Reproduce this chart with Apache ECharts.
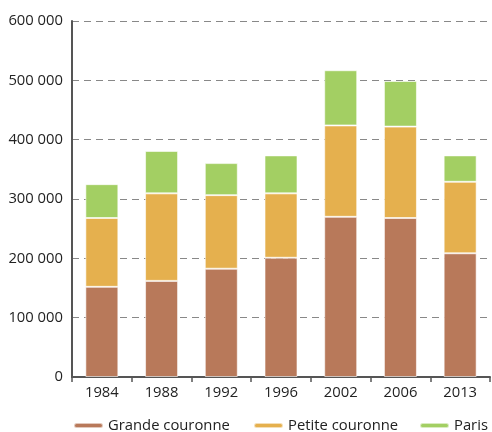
<!DOCTYPE html>
<html><head><meta charset="utf-8">
<script src="https://cdn.jsdelivr.net/npm/echarts@6/dist/echarts.min.js"></script>
<style>html,body{margin:0;padding:0;background:#fff}#c{width:492px;height:432px}</style>
</head><body><div id="c"></div>
<script>
const categories = ['1984','1988','1992','1996','2002','2006','2013'];
const grandeCouronne = [152000,162000,182500,201000,270000,268000,208500];
const petiteCouronne = [116000,147500,124000,108500,154000,154000,120500];
const paris = [57000,71500,54000,64000,93000,77000,44500];
const seriesNames = ['Grande couronne','Petite couronne','Paris'];
const colors = ['#b8795a','#e5b04e','#a3cf63'];

const font = '"Open Sans", sans-serif';
const fmt = v => String(v).replace(/\B(?=(\d{3})+(?!\d))/g, ' ');
const icon = 'path://M2.5,0 L26.5,0 A2.5,2.5 0 0 1 26.5,5 L2.5,5 A2.5,2.5 0 0 1 2.5,0 Z';

const chart = echarts.init(document.getElementById('c'));
const mk = (name, data, i) => ({
  name, type: 'bar', stack: 'total', data, barWidth: 33,
  itemStyle: { color: colors[i], borderColor: 'rgba(255,255,255,0.6)', borderWidth: 1 }
});
const legendText = { fontSize: 14.8, color: '#222', fontFamily: font };
const leg = (i, left) => ({
  top: 418, left, padding: 0, itemWidth: 29, itemHeight: 5, itemGap: 4, icon,
  textStyle: legendText, selectedMode: false,
  data: [{ name: seriesNames[i], itemStyle: { color: colors[i] } }]
});
chart.setOption({
  animation: false,
  textStyle: { fontFamily: font },
  grid: { left: 72, right: 2, top: 21, bottom: 55 },
  legend: [leg(0, 73), leg(1, 253), leg(2, 419)],
  xAxis: {
    type: 'category', data: categories,
    axisLine: { lineStyle: { color: '#555', width: 2 } },
    axisTick: { show: true, length: 5, lineStyle: { color: '#555', width: 1.5 } },
    axisLabel: { fontSize: 14.8, color: '#222', margin: 8 }
  },
  yAxis: {
    type: 'value', min: 0, max: 600000, interval: 100000,
    axisLine: { show: true, lineStyle: { color: '#555', width: 2 } },
    axisTick: { show: false },
    axisLabel: { fontSize: 14.8, color: '#222', margin: 9, formatter: fmt },
    splitLine: { lineStyle: { color: '#888', type: [7, 5], width: 1.2 } }
  },
  series: [
    mk(seriesNames[0], grandeCouronne, 0),
    mk(seriesNames[1], petiteCouronne, 1),
    mk(seriesNames[2], paris, 2)
  ]
});
</script></body></html>
